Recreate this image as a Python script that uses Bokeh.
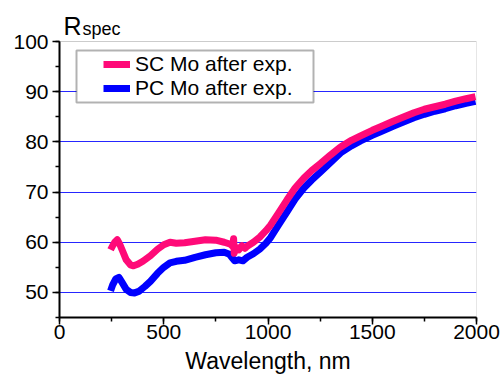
from bokeh.plotting import figure
from bokeh.models import (Range1d, SingleIntervalTicker, FixedTicker, Legend, LegendItem,
                          BoxAnnotation, Label)
from bokeh.embed import file_html
from bokeh.resources import INLINE

# ---- data ----
sc_wl = [245, 255, 265, 277, 290, 305, 320, 340, 355, 375, 400, 436, 470, 500, 530, 560,
         600, 650, 700, 750, 790, 820, 830, 835, 838, 845, 860, 875, 890, 900, 930, 960,
         990, 1012, 1050, 1092, 1130, 1172, 1210, 1252, 1300, 1348, 1400, 1444, 1500, 1540,
         1600, 1635, 1700, 1750, 1800, 1850, 1900, 1950, 1995]
sc_r = [58.5, 59.3, 60.0, 60.5, 59.5, 58.0, 56.5, 55.5, 55.3, 55.6, 56.2, 57.3, 58.6, 59.5,
        60.0, 59.8, 59.9, 60.2, 60.5, 60.4, 60.0, 59.6, 59.2, 60.7, 57.8, 59.0, 58.5, 59.3,
        58.8, 59.2, 60.0, 61.0, 62.3, 63.4, 65.8, 68.5, 70.8, 72.8, 74.3, 75.7, 77.4, 79.0,
        80.3, 81.2, 82.3, 83.0, 84.1, 84.7, 85.8, 86.5, 87.0, 87.5, 88.1, 88.6, 89.0]

pc_wl = [245, 255, 270, 285, 300, 320, 340, 360, 380, 410, 436, 470, 500, 530, 560, 600,
         650, 700, 750, 790, 815, 830, 840, 860, 880, 900, 930, 960, 990, 1012, 1050, 1092,
         1130, 1172, 1210, 1252, 1300, 1348, 1400, 1444, 1500, 1540, 1600, 1635, 1700, 1750,
         1800, 1850, 1900, 1950, 1995]
pc_r = [50.3, 51.5, 52.7, 53.0, 52.0, 50.6, 50.0, 49.9, 50.2, 51.2, 52.2, 53.8, 55.0, 55.9,
        56.2, 56.4, 57.0, 57.5, 57.9, 58.0, 57.6, 56.8, 56.3, 56.5, 56.3, 57.0, 57.7, 58.6,
        59.8, 60.9, 63.4, 66.1, 68.6, 70.8, 72.4, 74.0, 75.9, 77.8, 79.2, 80.2, 81.3, 82.0,
        83.1, 83.7, 84.8, 85.5, 86.1, 86.6, 87.2, 87.7, 88.1]

series_labels = ["SC Mo after exp.", "PC Mo after exp."]
y_grid_values = [50, 60, 70, 80, 90]
x_limits = (0, 2000)
y_limits = (45, 100)

FONT = "Liberation Sans"
PINK = "#ff0a78"
BLUE = "#0000ff"

# The frame runs to the top of the canvas so the "R_spec" heading can be drawn
# inside it; the visible box is limited to the data limits.
FRAME_H = 317
DATA_H = 276
y_top = y_limits[0] + (y_limits[1] - y_limits[0]) * FRAME_H / DATA_H

p = figure(width=502, height=380, output_backend="svg", toolbar_location=None,
           x_range=Range1d(*x_limits), y_range=Range1d(y_limits[0], y_top),
           min_border_left=59, min_border_right=26, min_border_top=0, min_border_bottom=63)
p.background_fill_color = "white"
p.border_fill_color = "white"
p.outline_line_color = None

# visible plot box (top/right thin gray edges)
p.add_layout(BoxAnnotation(left=x_limits[0], right=x_limits[1],
                           bottom=y_limits[0], top=y_limits[1],
                           fill_alpha=0, line_color="#555555", line_width=1,
                           level="underlay"))

p.xaxis.ticker = SingleIntervalTicker(interval=500, num_minor_ticks=2)
p.yaxis.ticker = SingleIntervalTicker(interval=10, num_minor_ticks=2)
p.yaxis.bounds = y_limits
p.xgrid.visible = False
p.ygrid.ticker = FixedTicker(ticks=y_grid_values)
p.ygrid.grid_line_color = BLUE
p.ygrid.grid_line_alpha = 0.85
p.ygrid.grid_line_width = 1

for ax in (p.xaxis, p.yaxis):
    ax.axis_line_color = "black"
    ax.axis_line_width = 2
    ax.major_tick_line_color = "black"
    ax.minor_tick_line_color = "black"
    ax.major_tick_line_width = 1.5
    ax.minor_tick_line_width = 1.5
    ax.major_tick_in = 0
    ax.minor_tick_in = 0
    ax.major_tick_out = 7
    ax.minor_tick_out = 4
    ax.major_label_text_font = FONT
    ax.major_label_text_font_size = "21px"
    ax.major_label_text_color = "black"

p.xaxis.major_label_standoff = 0
p.yaxis.major_label_standoff = 4
p.xaxis.axis_label = "Wavelength, nm"
p.xaxis.axis_label_text_font = FONT
p.xaxis.axis_label_text_font_size = "23px"
p.xaxis.axis_label_text_font_style = "normal"
p.xaxis.axis_label_text_color = "black"
p.xaxis.axis_label_standoff = 6

r_pc = p.line(pc_wl, pc_r, line_color=BLUE, line_width=7, line_join="round")
r_sc = p.line(sc_wl, sc_r, line_color=PINK, line_width=7, line_join="round")

# legend frame (screen units, measured from the frame's bottom-left)
p.add_layout(BoxAnnotation(left=17, right=254, top=267, bottom=215,
                           left_units="screen", right_units="screen",
                           top_units="screen", bottom_units="screen",
                           fill_color="white", fill_alpha=1.0,
                           line_color="black", line_width=2, level="overlay"))

legend = Legend(items=[LegendItem(label=series_labels[0], renderers=[r_sc]),
                       LegendItem(label=series_labels[1], renderers=[r_pc])],
                location=(44, 217), padding=0, margin=0, spacing=0,
                glyph_width=27, glyph_height=22, label_height=22, label_standoff=5,
                label_text_font=FONT, label_text_font_size="21px", label_text_color="black",
                background_fill_alpha=0, border_line_alpha=0)
p.add_layout(legend)

# heading R_spec
p.add_layout(Label(x=4, y=FRAME_H - 25, x_units="screen", y_units="screen", text="R",
                   text_font=FONT, text_font_size="25px", text_color="black",
                   text_baseline="alphabetic"))
p.add_layout(Label(x=23, y=FRAME_H - 28, x_units="screen", y_units="screen", text="spec",
                   text_font=FONT, text_font_size="18px", text_color="black",
                   text_baseline="alphabetic"))

open("out.html", "w").write(file_html(p, INLINE))
